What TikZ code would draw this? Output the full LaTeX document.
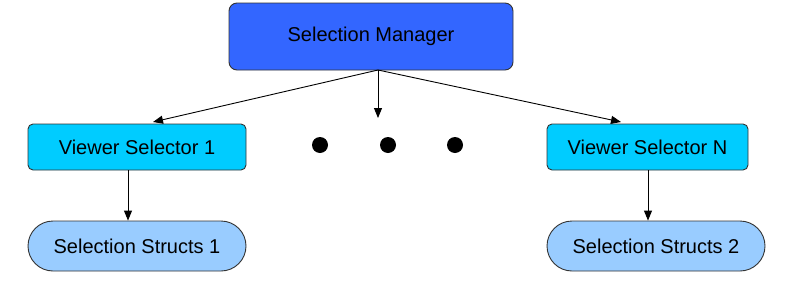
\documentclass[tikz,border=0pt]{standalone}
\usepackage{fontspec}
\setmainfont{Liberation Sans}
\usetikzlibrary{arrows.meta,shapes.misc}
\definecolor{mgr}{HTML}{3366FF}
\definecolor{vsel}{HTML}{00CCFF}
\definecolor{sstr}{HTML}{99CCFF}
\begin{document}
\begin{tikzpicture}[x=1pt,y=-1pt,
  base/.style={draw=black!80,line width=0.9pt,inner sep=0pt,font=\fontsize{20}{24}\selectfont},
  mgrbox/.style={base,fill=mgr,rounded corners=8pt,minimum width=284pt,minimum height=67pt},
  selbox/.style={base,fill=vsel,rounded corners=5pt,minimum height=46pt},
  structbox/.style={base,fill=sstr,rounded rectangle,minimum height=50pt},
  arr/.style={line width=0.9pt,-{Triangle[length=10pt,width=8pt]}},
  dot/.style={circle,fill=black,minimum size=16pt,inner sep=0pt}]
\useasboundingbox (0,0) rectangle (793,295);
\node[mgrbox] (m) at (371,36.5) {Selection Manager};
\node[selbox,minimum width=218pt] (v1) at (137,147) {Viewer Selector 1};
\node[selbox,minimum width=201pt] (vn) at (647.5,147) {Viewer Selector N};
\node[structbox,minimum width=218pt] (s1) at (137,246) {Selection Structs 1};
\node[structbox,minimum width=218pt] (s2) at (656,246) {Selection Structs 2};
\node[dot] (d1) at (320,145) {};
\node[dot] (d2) at (388,145) {};
\node[dot] (d3) at (455,145) {};
\coordinate (mb) at (378,70);
\coordinate (t1) at (153,122);
\coordinate (tn) at (621,122);
\coordinate (tm) at (378,118);
\draw[arr] (mb) -- (t1);
\draw[arr] (mb) -- (tn);
\draw[arr] (mb) -- (tm);
\draw[arr] (v1.south -| 128,0) -- (s1.north -| 128,0);
\draw[arr] (vn.south -| 648,0) -- (s2.north -| 648,0);
\end{tikzpicture}
\end{document}
